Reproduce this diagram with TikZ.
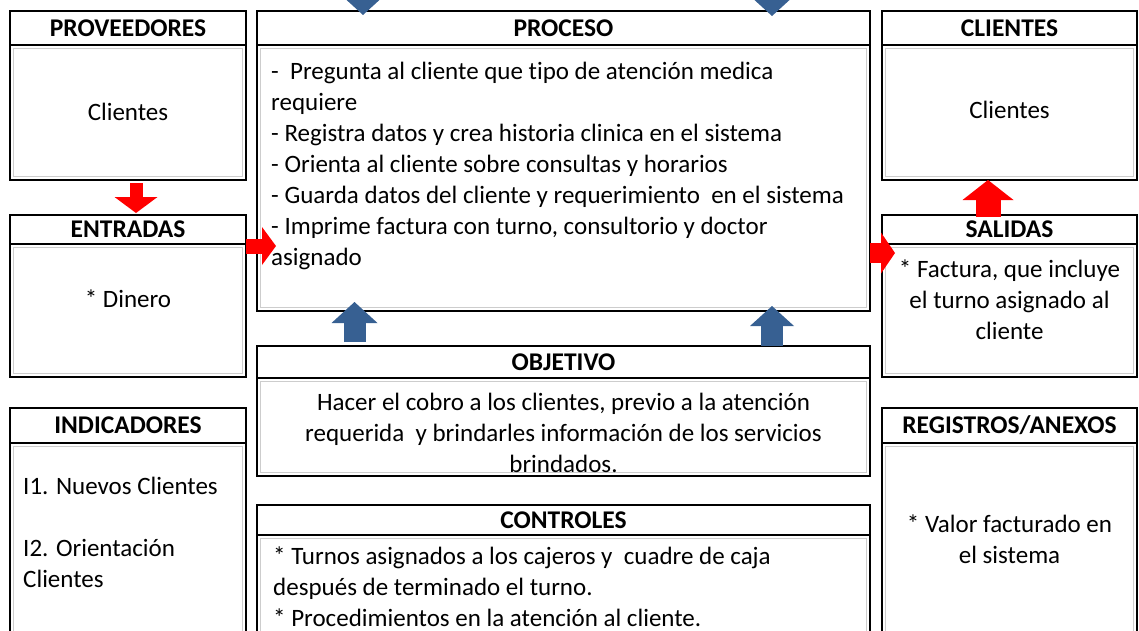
\documentclass[tikz,border=0pt]{standalone}
\usepackage{fontspec}
\setmainfont{Carlito}[Ligatures=NoCommon]
\usetikzlibrary{arrows.meta,positioning}
\definecolor{flowblue}{RGB}{55,96,146}
\definecolor{framegray}{RGB}{205,205,205}

\begin{document}
\begin{tikzpicture}[
  x=1pt, y=1pt,
  head/.style={rectangle,draw,line width=2.4pt,outer sep=0pt,inner sep=0pt,font=\fontsize{25.5}{28}\selectfont\bfseries},
  panel/.style={rectangle,draw,line width=2.4pt,outer sep=0pt,inner sep=0pt},
  txt/.style={inner sep=0pt,font=\fontsize{25}{31}\selectfont},
  blk/.style n args={3}{line width=#1,-{Triangle[width=#2,length=#3,line width=0pt]}},
  node distance=0pt
]
\useasboundingbox (0,0) rectangle (1139,-630);

% left column
\node[head, minimum width=236pt, minimum height=34pt, anchor=north west] (provH) at (10,-11) {PROVEEDORES};
\node[panel, minimum width=236pt, minimum height=135pt, below=of provH] (provB) {};
\node[head, minimum width=236pt, minimum height=29pt, below=35pt of provB] (entH) {ENTRADAS};
\node[panel, minimum width=236pt, minimum height=133pt, below=of entH] (entB) {};
\node[head, minimum width=236pt, minimum height=35pt, below=31pt of entB] (indH) {INDICADORES};
\node[panel, minimum width=236pt, minimum height=210pt, below=of indH] (indB) {};

% middle column
\node[head, minimum width=613pt, minimum height=34pt, right=11pt of provH] (procH) {PROCESO};
\node[panel, minimum width=613pt, minimum height=266pt, below=of procH] (procB) {};
\node[head, minimum width=613pt, minimum height=32pt, below=35pt of procB] (objH) {OBJETIVO};
\node[panel, minimum width=613pt, minimum height=98pt, below=of objH] (objB) {};
\node[head, minimum width=613pt, minimum height=30pt, below=29pt of objB] (ctrlH) {CONTROLES};
\node[panel, minimum width=613pt, minimum height=200pt, below=of ctrlH] (ctrlB) {};

% right column
\node[head, minimum width=255pt, minimum height=34pt, right=12pt of procH] (cliH) {CLIENTES};
\node[panel, minimum width=255pt, minimum height=135pt, below=of cliH] (cliB) {};
\node[head, minimum width=255pt, minimum height=29pt, below=35pt of cliB] (salH) {SALIDAS};
\node[panel, minimum width=255pt, minimum height=133pt, below=of salH] (salB) {};
\node[head, minimum width=255pt, minimum height=35pt, below=31pt of salB] (regH) {REGISTROS/ANEXOS};
\node[panel, minimum width=255pt, minimum height=210pt, below=of regH] (regB) {};

% inner frame lines
\foreach \b in {provB,entB,indB,procB,objB,ctrlB,cliB,salB,regB}
  \draw[framegray, line width=1.3pt] ([shift={(3.5,-3.5)}]\b.north west) rectangle ([shift={(-3.5,3.5)}]\b.south east);

% texts (base = last line)
\node[txt, anchor=base] (provT) at ([yshift=-75pt]provB.north) {Clientes};
\node[txt, anchor=base] (entT) at ([yshift=-63pt]entB.north) {* Dinero};
\node[txt, anchor=base west, align=left] (indT) at ([shift={(13,-144)}]indB.north west)
  {I1. Nuevos Clientes\\[31pt]I2. Orientación\\Clientes};
\node[txt, anchor=base west, align=left] (procT) at ([shift={(14,-220)}]procB.north west)
  {-\ \ Pregunta al cliente que tipo de atención medica\\requiere\\- Registra datos y crea historia clinica en el sistema\\- Orienta al cliente sobre consultas y horarios\\- Guarda datos del cliente y requerimiento\ \ en el sistema\\- Imprime factura con turno, consultorio y doctor\\asignado};
\node[txt, anchor=base, align=center] (objT) at ([yshift=-94pt]objB.north)
  {Hacer el cobro a los clientes, previo a la atención\\requerida\ \ y brindarles información de los servicios\\brindados.};
\node[txt, anchor=base west, align=left] (ctrlT) at ([shift={(16,-91)}]ctrlB.north west)
  {* Turnos asignados a los cajeros y\ \ cuadre de caja\\después de terminado el turno.\\* Procedimientos en la atención al cliente.};
\node[txt, anchor=base] (cliT) at ([yshift=-73pt]cliB.north) {Clientes};
\node[txt, anchor=base, align=center] (salT) at ([yshift=-95pt]salB.north)
  {* Factura, que incluye\\el turno asignado al\\cliente};
\node[txt, anchor=base, align=center] (regT) at ([yshift=-120pt]regB.north)
  {* Valor facturado en\\el sistema};

% block arrows
\draw[red, blk={13pt}{43pt}{16pt}, shorten <=3pt, shorten >=2pt] ([xshift=8pt]provB.south) -- ([xshift=8pt]entH.north);
\draw[red, blk={15pt}{38pt}{14pt}, shorten >=-19pt] ([yshift=-2pt]entH.south east) -- ([yshift=-2pt]entH.south east -| procB.west);
\draw[red, blk={20pt}{41pt}{14pt}, shorten >=-13pt] ([yshift=-9pt]salH.south west -| procB.east) -- ([yshift=-9pt]salH.south west);
\draw[red, blk={25pt}{51pt}{20pt}, shorten <=-2pt] ([xshift=-21.5pt]salH.north) -- ([xshift=-21.5pt]cliB.south);

\coordinate (inL) at ([xshift=-200.5pt, yshift=30pt]procH.north);
\coordinate (inR) at ([xshift=208.5pt, yshift=30pt]procH.north);
\draw[flowblue, blk={22pt}{46pt}{21pt}, shorten >=-4pt] (inL) -- ([xshift=-200.5pt]procH.north);
\draw[flowblue, blk={22pt}{46pt}{21pt}, shorten >=-5pt] (inR) -- ([xshift=208.5pt]procH.north);
\draw[flowblue, blk={22pt}{46pt}{21pt}, shorten <=4pt, shorten >=-9pt] ([xshift=-209pt]objH.north) -- ([xshift=-209pt]procB.south);
\draw[flowblue, blk={22pt}{44pt}{20pt}, shorten >=-5pt] ([xshift=208.5pt]objH.north) -- ([xshift=208.5pt]procB.south);
\end{tikzpicture}
\end{document}
